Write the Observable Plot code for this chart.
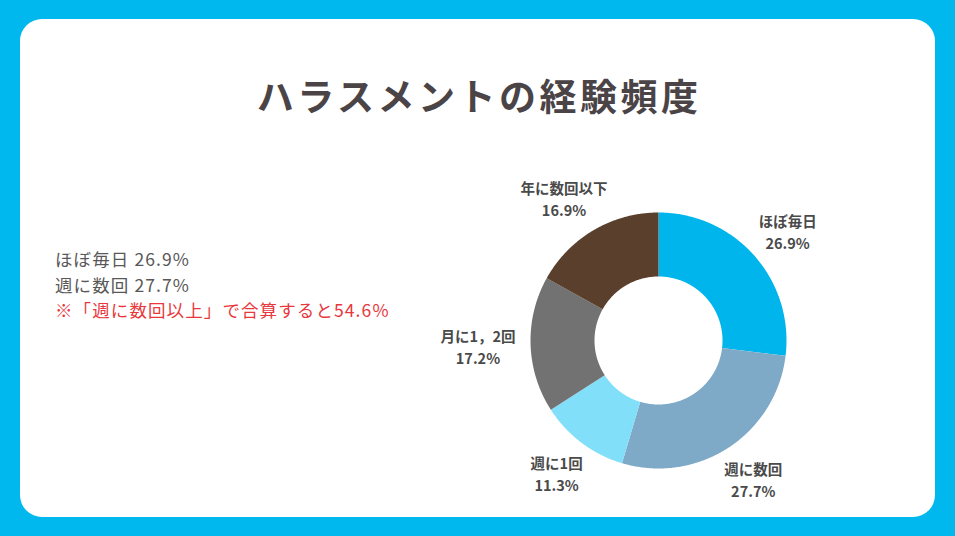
<!DOCTYPE html>
<html>
<head>
<meta charset="utf-8">
<script src="https://cdn.jsdelivr.net/npm/d3@7"></script>
<script src="https://cdn.jsdelivr.net/npm/@observablehq/plot@0.6"></script>
<style>
  html, body { margin: 0; padding: 0; }
  body { width: 955px; height: 536px; background: #00b8ee; position: relative; overflow: hidden;
         font-family: "Noto Sans CJK JP", "Noto Sans", sans-serif; }
  #card { position: absolute; left: 20px; top: 19px; width: 915px; height: 498px; background: #ffffff; border-radius: 22px; }
  #title { position: absolute; left: 0; width: 955px; top: 68px; text-align: center; font-size: 37px; font-weight: 700;
           color: #4b4447; letter-spacing: 3.5px; padding-left: 3.5px; box-sizing: border-box; line-height: 54px; }
  #notes { position: absolute; left: 55px; top: 246px; font-size: 17.5px; line-height: 25.5px; color: #595757; letter-spacing: 1.1px; }
  #notes .red { color: #e8383d; }
  #chart { position: absolute; left: 0; top: 0; }
</style>
</head>
<body>
<div id="card"></div>
<div id="title">ハラスメントの経験頻度</div>
<div id="notes">
  <div id="n1"></div>
  <div id="n2"></div>
  <div id="n3" class="red"></div>
</div>
<div id="chart"></div>
<script>
// ---- data ----
const categories = ["ほぼ毎日", "週に数回", "週に1回", "月に1，2回", "年に数回以下"];
const values = [26.9, 27.7, 11.3, 17.2, 16.9];
const colors = ["#00b5ec", "#7eaac8", "#82dffa", "#727272", "#5b3f2d"];
const chartTitle = "ハラスメントの経験頻度";
const noteLines = ["ほぼ毎日 26.9%", "週に数回 27.7%", "※「週に数回以上」で合算すると54.6%"];

document.getElementById("title").textContent = chartTitle;
document.getElementById("n1").textContent = noteLines[0];
document.getElementById("n2").textContent = noteLines[1];
document.getElementById("n3").textContent = noteLines[2];

// ---- geometry from values ----
const total = d3.sum(values);
const inner = 0.5;
const R = 128; // px per data unit
const cx = 658, cy = 340;
const polys = [];
const labels = [];
let acc = 0;
categories.forEach((c, i) => {
  const a0 = acc / total * 2 * Math.PI;
  acc += values[i];
  const a1 = acc / total * 2 * Math.PI;
  const n = Math.max(8, Math.ceil((a1 - a0) / 0.01));
  for (let k = 0; k <= n; k++) {
    const a = a0 + (a1 - a0) * k / n;
    polys.push({cat: c, x: Math.sin(a), y: Math.cos(a)});
  }
  for (let k = n; k >= 0; k--) {
    const a = a0 + (a1 - a0) * k / n;
    polys.push({cat: c, x: inner * Math.sin(a), y: inner * Math.cos(a)});
  }
  // label: anchor just outside ring, box shifted outward by half its size
  const am = (a0 + a1) / 2;
  const pct = values[i].toFixed(1) + "%";
  const w = Math.max([...c].reduce((s, ch) => s + (/[\x00-\x7f]/.test(ch) ? 8 : 14), 0), 40);
  const h = 42;
  const r0 = 1.13;
  labels.push({
    text: c + "\n" + pct,
    x: r0 * Math.sin(am) + Math.sin(am) * (w / 2) / R,
    y: r0 * Math.cos(am) + Math.cos(am) * (h / 2) / R
  });
});

const plot = Plot.plot({
  width: 955,
  height: 536,
  margin: 0,
  style: {background: "transparent", overflow: "visible"},
  x: {domain: [-1, 1], range: [cx - R, cx + R], axis: null},
  y: {domain: [-1, 1], range: [cy + R, cy - R], axis: null},
  color: {domain: categories, range: colors},
  marks: [
    Plot.line(polys, {x: "x", y: "y", z: "cat", fill: "cat", stroke: "none", curve: "linear"}),
    Plot.text(labels, {x: "x", y: "y", text: "text", fontSize: 14.5, fontWeight: 700, fill: "#4a4a4a",
      lineHeight: 1.55, textAnchor: "middle", lineAnchor: "middle",
      fontFamily: "'Noto Sans CJK JP', sans-serif"})
  ]
});
document.getElementById("chart").appendChild(plot);
</script>
</body>
</html>
